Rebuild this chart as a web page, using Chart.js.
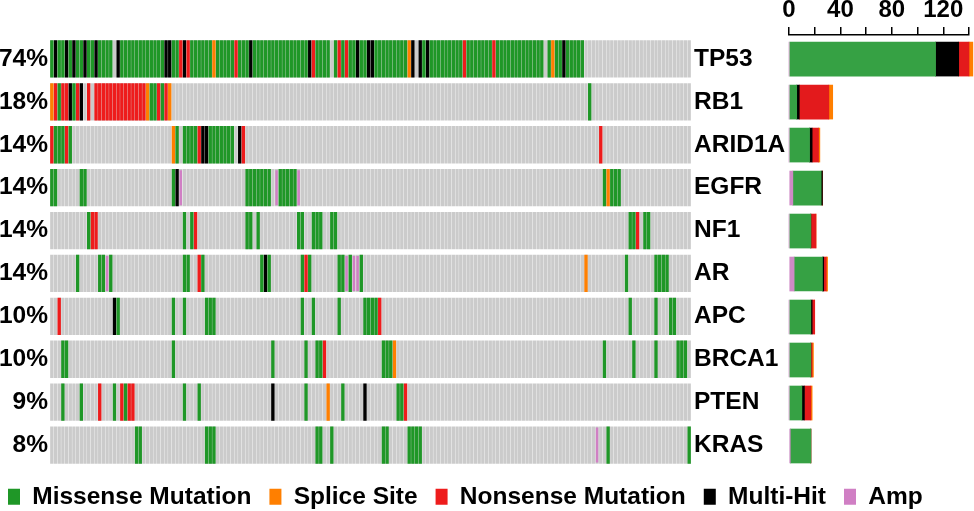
<!DOCTYPE html>
<html><head><meta charset="utf-8">
<script src="https://cdn.jsdelivr.net/npm/chart.js@4.4.1/dist/chart.umd.min.js"></script>
<style>
html,body{margin:0;padding:0;background:#fff;}
#wrap{position:relative;width:974px;height:511px;overflow:hidden;}
#wrap canvas{position:absolute;left:0;top:0;}
</style></head><body>
<div id="wrap"><canvas id="onco" width="974" height="511"></canvas><canvas id="bars" width="974" height="511"></canvas></div>
<script>
// ---------- DATA ----------
const genes = ['TP53','RB1','ARID1A','EGFR','NF1','AR','APC','BRCA1','PTEN','KRAS'];
const pctLabels = ['74%','18%','14%','14%','14%','14%','10%','10%','9%','8%'];
// one character per sample (column): . none, M missense, S splice site, N nonsense, H multi-hit, A amp
const rowTP53  = "MHMMHMHMMH MMHMMMM.HM MMMMMMMMMM MHHMMNHNMM MMMMSMMMMM NMMMHMMMMM MMMMMMMMMM HNMMMM.MNM NMMHMMHHMM MMMMMMMSH. HMHMMMMMMM MMNMMMMMMM NMMMMMMMMM MMMM.MSMMH MMMMM..... .......... .......... ....";
const rowRB1   = "SNMNNHMNH. N.NNNNNNNN NNNNNNSMMN MNS....... .......... .......... .......... .......... .......... .......... .......... .......... .......... .......... ......M... .......... .......... ....";
const rowARID1A= "NMMMNM.... .......... .......... ...SM.MMMM NHHMMMMMMM .HN....... .......... .......... .......... .......... .......... .......... .......... .......... .........N .......... .......... ....";
const rowEGFR  = "MM......MM .......... .......... ...MHA.... .......... ...MMMMMMM .AMMMMMA.. .......... .......... .......... .......... .......... .......... .......... .......... MSMMM..... .......... ....";
const rowNF1   = ".......... MNN....... .......... ......M.MN .......... ...MM.M... .......MM. .MMM..MM.. .......... .......... .......... .......... .......... .......... .......... .......MMN .MM....... ....";
const rowAR    = ".......M.. ...MMAM... .......... ......MM.. NM........ .......MHM ........MN M.......MM AMAAM..... .......... .......... .......... .......... .......... .....S.... ......M... ....MMMM.. ....";
const rowAPC   = "..N....... .......HM. .......... ...M..M... ..MMM..... .......... ........M. .M......M. .....MMMMN .......... .......... .......... .......... .......... .......... .......M.. ....M...MM ....";
const rowBRCA1 = "...MM..... .......... .......... ...M...... .......... .......... M........M ..MMN..... .......... MMMS...... .......... .......... .......... .......... .......... M.......M. ....M..... MMM.";
const rowPTEN  = "...M....M. ...N...M.N MNN....... ......M... M......... .......... H........M .....S...M .....H.... ....MMN... .......... .......... .......... .......... .......... .......... .......... ....";
const rowKRAS  = ".......... .......... ...MM..... .......... ..MMM..... .......... .......... ..MM..M... .......... MM.....MMM M......... .......... .......... .......... ........A. .M........ .......... ...M";
// right bar chart: number of samples per gene and class
const barAmp      = [0, 0, 0, 3, 0, 4, 0, 0, 0, 1];
const barMissense = [114, 6, 16, 22, 17, 22, 17, 17, 10, 16];
const barMultiHit = [18, 2, 2, 1, 0, 1, 1, 0, 2, 0];
const barNonsense = [8, 23, 5, 0, 4, 2, 2, 1, 5, 0];
const barSplice   = [3, 3, 1, 0, 0, 1, 0, 1, 1, 0];
const xTickValues = [0, 20, 40, 60, 80, 100, 120, 140];

// ---------- STYLE ----------
const classes = [
  {code:'M', label:'Missense Mutation', cell:'#1f9727', bar:'#36a144'},
  {code:'S', label:'Splice Site',       cell:'#ff7f00', bar:'#ff7f00'},
  {code:'N', label:'Nonsense Mutation', cell:'#ee1c1c', bar:'#e31a1c'},
  {code:'H', label:'Multi-Hit',         cell:'#000000', bar:'#000000'},
  {code:'A', label:'Amp',               cell:'#d07fc4', bar:'#cf8ac6'}
];
const FONT = "'Liberation Sans', Arial, sans-serif";
const LBL = { size: 24.5, weight: 'bold' };

const rows = [rowTP53,rowRB1,rowARID1A,rowEGFR,rowNF1,rowAR,rowAPC,rowBRCA1,rowPTEN,rowKRAS].map(r => r.replace(/ /g,''));
const nSamples = rows[0].length;

function cells(test, inset) {
  const pts = [];
  rows.forEach((r, g) => {
    for (let s = 0; s < r.length; s++) if (test(r[s])) pts.push({x: s, y: [g + inset, g + 1 - inset]});
  });
  return pts;
}

const oncoSets = classes.map(c => ({
  label: c.label,
  data: cells(ch => ch === c.code, c.code === 'A' ? 0.1 : 0.073),
  backgroundColor: c.cell,
  borderWidth: 0,
  grouped: false,
  barThickness: c.code === 'A' ? 1.8 : 2.7,
  order: 0
}));
oncoSets.push({
  label: '__bg',
  data: cells(() => true, 0.073),
  backgroundColor: '#cbcbcb',
  borderWidth: 0,
  grouped: false,
  barThickness: 2.7,
  order: 5
});

Chart.defaults.font.family = FONT;
Chart.defaults.color = '#000';

new Chart(document.getElementById('onco'), {
  type: 'bar',
  data: { datasets: oncoSets },
  options: {
    responsive: false, animation: false, devicePixelRatio: 1,
    layout: { padding: { left: -10, right: 0, top: 37.5, bottom: 0 } },
    scales: {
      x: { type: 'linear', min: -0.5, max: nSamples - 0.5, offset: false, display: false },
      y: {
        type: 'linear', min: 0, max: genes.length, reverse: true, position: 'left',
        afterBuildTicks: s => { s.ticks = genes.map((g, i) => ({ value: i + 0.5 })); },
        afterFit: s => { s.width = 60; },
        grid: { display: false, drawTicks: false }, border: { display: false },
        ticks: { callback: (v, i) => pctLabels[i], font: LBL, padding: 2, autoSkip: false }
      },
      y2: {
        type: 'linear', min: 0, max: genes.length, reverse: true, position: 'right',
        afterBuildTicks: s => { s.ticks = genes.map((g, i) => ({ value: i + 0.5 })); },
        afterFit: s => { s.width = 283; },
        grid: { display: false, drawTicks: false }, border: { display: false },
        ticks: { callback: (v, i) => genes[i], font: LBL, padding: 3, autoSkip: false }
      }
    },
    plugins: {
      tooltip: { enabled: false },
      legend: {
        position: 'bottom', align: 'start', maxHeight: 44.5,
        labels: {
          filter: it => it.text !== '__bg',
          boxWidth: 12, boxHeight: 16, padding: 18,
          font: LBL
        }
      }
    }
  }
});

const barDefs = [
  ['Amp', barAmp, 'A'], ['Missense Mutation', barMissense, 'M'], ['Multi-Hit', barMultiHit, 'H'],
  ['Nonsense Mutation', barNonsense, 'N'], ['Splice Site', barSplice, 'S']
];
new Chart(document.getElementById('bars'), {
  type: 'bar',
  data: {
    datasets: barDefs.map(([lab, vals, code]) => ({
      label: lab,
      data: vals.map((v, i) => ({ x: v, y: i })),
      backgroundColor: classes.find(c => c.code === code).bar,
      borderWidth: 0,
      barThickness: 34,
      clip: false
    }))
  },
  options: {
    indexAxis: 'y', responsive: false, animation: false, devicePixelRatio: 1,
    layout: { padding: { left: 789, right: 5, top: 0, bottom: 43.5 } },
    scales: {
      x: {
        type: 'linear', position: 'top', stacked: true, min: 0, max: 140,
        afterBuildTicks: s => { s.ticks = xTickValues.map(v => ({ value: v })); },
        afterFit: s => { s.height = 35; },
        grid: { drawOnChartArea: false, drawTicks: true, tickLength: 8, color: '#000', lineWidth: 1.5 },
        border: { display: true, color: '#000', width: 1.5 },
        ticks: { callback: v => (v % 40 === 0 ? String(v) : ''), font: { size: 24, weight: 'bold' }, padding: 2, maxRotation: 0, autoSkip: false }
      },
      y: { type: 'linear', stacked: true, min: -0.56, max: 9.5, reverse: true, display: false, offset: false }
    },
    plugins: { legend: { display: false }, tooltip: { enabled: false } }
  }
});
</script>
</body></html>
